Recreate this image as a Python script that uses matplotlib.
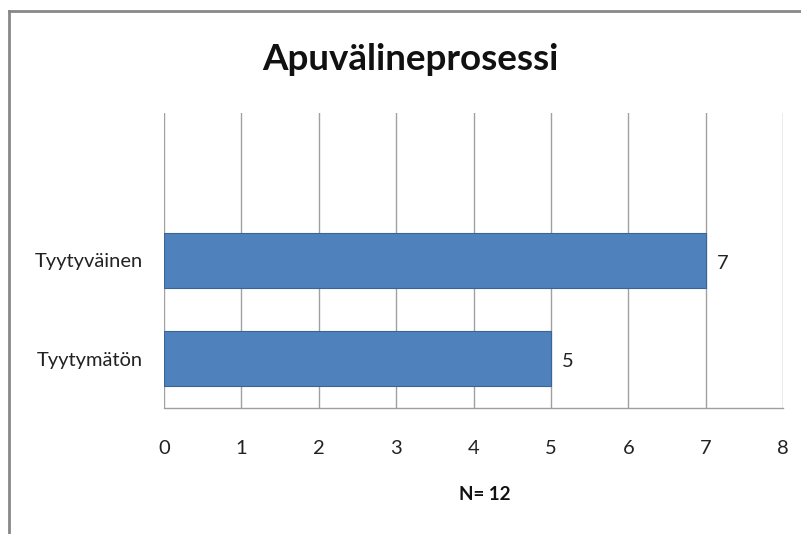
import matplotlib
matplotlib.use("Agg")
import matplotlib.pyplot as plt

categories = ["Tyytymätön", "Tyytyväinen", ""]
values = [5, 7, None]
xticks = [0, 1, 2, 3, 4, 5, 6, 7, 8]
title = "Apuvälineprosessi"
xlabel = "N= 12"

plt.rcParams['font.family'] = ['Lato', 'DejaVu Sans']

fig = plt.figure(figsize=(8.01, 5.34), dpi=100)
ax = fig.add_axes([164/801, 1-408/534, (783-164)/801, (408-113)/534])

ys = list(range(len(categories)))
bar_y = [y for y, v in zip(ys, values) if v is not None]
bar_v = [v for v in values if v is not None]
ax.barh(bar_y, bar_v, height=0.56, color='#4F81BD', edgecolor='#3A6396', linewidth=0.8, zorder=3)
for y, v in zip(bar_y, bar_v):
    ax.text(v + 0.14, y - 0.03, str(v), va='center', ha='left', fontsize=14.5, color='#222222')

ax.set_xlim(0, 8)
ax.set_ylim(-0.5, 2.5)
ax.set_xticks(xticks)
ax.set_xticklabels([str(t) for t in xticks], fontsize=14.5, color='#222222')
ax.set_yticks(ys)
ax.set_yticklabels(categories, fontsize=14.5, color='#222222')
ax.tick_params(axis='both', length=0)
ax.tick_params(axis='x', pad=23)
ax.tick_params(axis='y', pad=15)
ax.grid(axis='x', color='#A0A0A0', linewidth=1.0, zorder=0)
for s in ['top', 'right', 'left']:
    ax.spines[s].set_visible(False)
ax.spines['bottom'].set_color('#A0A0A0')
ax.spines['bottom'].set_linewidth(1.0)

fig.text(485/801, 1-494/534, xlabel, ha='center', va='center', fontsize=13.5, fontweight='bold', color='#111111')
fig.text(410/801, 1-60/534, title, ha='center', va='center', fontsize=26.5, fontweight='bold', color='#111111')

# figure border (left and top visible)
fig.add_artist(plt.Line2D([9/801, 9/801], [0, 1-11/534], transform=fig.transFigure, color='#888888', linewidth=2))
fig.add_artist(plt.Line2D([9/801, 1], [1-11/534, 1-11/534], transform=fig.transFigure, color='#888888', linewidth=2))

fig.savefig("out.png", dpi=100)
